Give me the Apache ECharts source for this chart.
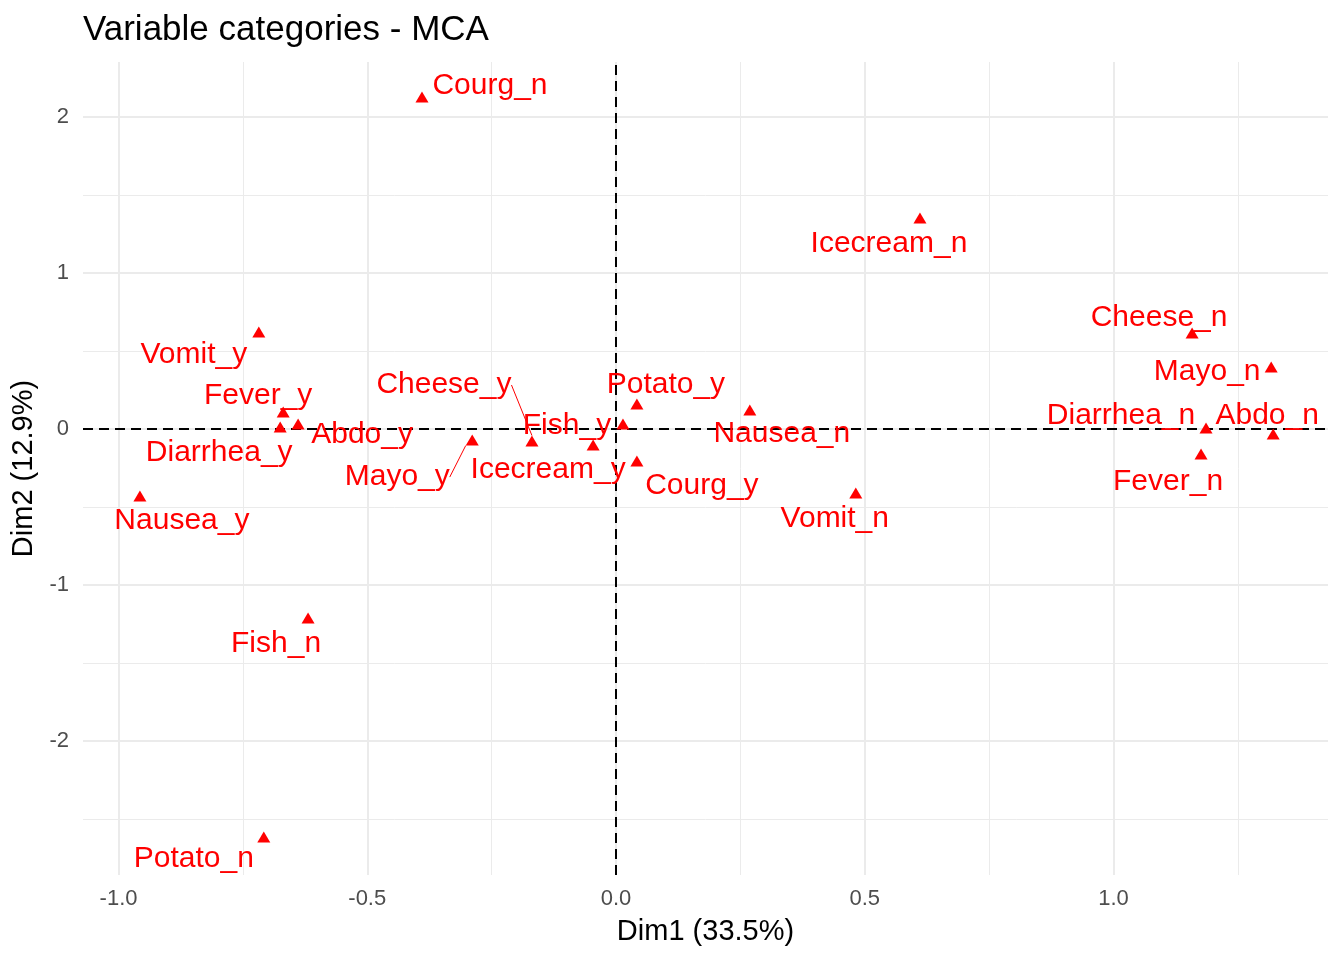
<!DOCTYPE html>
<html>
<head>
<meta charset="utf-8" />
<title>Variable categories - MCA</title>
<script src="https://cdn.jsdelivr.net/npm/echarts@6/dist/echarts.min.js"></script>
<style>
  html, body { margin: 0; padding: 0; background: #fff; }
  #main { width: 1344px; height: 960px; }
</style>
</head>
<body>
<div id="main"></div>
<script>
// variable categories and their coordinates on the first two dimensions
var categories = ['Nausea_y', 'Vomit_y', 'Abdo_y', 'Fever_y', 'Diarrhea_y',
  'Nausea_n', 'Vomit_n', 'Abdo_n', 'Fever_n', 'Diarrhea_n',
  'Fish_y', 'Fish_n', 'Mayo_y', 'Mayo_n', 'Courg_y', 'Courg_n',
  'Cheese_y', 'Cheese_n', 'Icecream_y', 'Icecream_n', 'Potato_y', 'Potato_n'];
var dim1 = [-0.957, -0.718, -0.639, -0.669, -0.675,
  0.269, 0.482, 1.321, 1.176, 1.186,
  0.014, -0.619, -0.289, 1.317, 0.042, -0.390,
  -0.169, 1.158, -0.046, 0.611, 0.042, -0.708];
var dim2 = [-0.429, 0.622, 0.032, 0.109, 0.013,
  0.122, -0.410, -0.032, -0.160, 0.006,
  0.032, -1.212, -0.071, 0.397, -0.205, 2.128,
  -0.077, 0.615, -0.103, 1.353, 0.160, -2.615];

// axes
var xLimits = [-1.0714, 1.4312];
var yLimits = [-2.859, 2.3526];
var xTicks = [-1, -0.5, 0, 0.5, 1];
var xMinor = [-0.75, -0.25, 0.25, 0.75, 1.25];
var yTicks = [-2, -1, 0, 1, 2];
var yMinor = [-2.5, -1.5, -0.5, 0.5, 1.5];

// where the repelled labels ended up, in px from the point
var labelShift = {
  Courg_n: [68, -14], Icecream_n: [-31, 23], Cheese_n: [-33, -18], Mayo_n: [-64, 2],
  Abdo_n: [-6, -21], Diarrhea_n: [-85, -15], Fever_n: [-33, 25], Vomit_n: [-21, 23],
  Nausea_n: [32, 21], Potato_y: [29, -22], Fish_y: [-56, -1], Courg_y: [65, 22],
  Icecream_y: [-45, 22], Cheese_y: [-88, -59], Mayo_y: [-75, 34], Vomit_y: [-65, 20],
  Fever_y: [-25, -19], Diarrhea_y: [-61, 23], Abdo_y: [64, 8], Nausea_y: [42, 22],
  Fish_n: [-32, 23], Potato_n: [-70, 19]
};
var withSegment = ['Cheese_y', 'Mayo_y'];

var FONT = 'Liberation Sans, Arial, Helvetica, sans-serif';

function gridLines(values, axis, width) {
  return values.map(function (v) {
    var item = { lineStyle: { width: width } };
    item[axis] = v;
    return item;
  });
}

var points = categories.map(function (c, i) {
  return {
    name: c,
    value: [dim1[i], dim2[i]],
    labelLine: { show: withSegment.indexOf(c) >= 0 }
  };
});

var myChart = echarts.init(document.getElementById('main'));
myChart.setOption({
  animation: false,
  backgroundColor: '#fff',
  title: {
    text: 'Variable categories - MCA',
    left: 83,
    top: 13,
    padding: 0,
    textStyle: { fontFamily: FONT, fontSize: 35, fontWeight: 'normal', color: '#000' }
  },
  grid: { left: 83, right: 16, top: 62, bottom: 85 },
  xAxis: {
    type: 'value',
    min: xLimits[0],
    max: xLimits[1],
    name: 'Dim1 (33.5%)',
    nameLocation: 'middle',
    nameGap: 42,
    nameTextStyle: { fontFamily: FONT, fontSize: 29, color: '#000' },
    axisLine: { show: false },
    axisTick: { show: true, customValues: xTicks, length: 6, lineStyle: { color: '#222', width: 2 } },
    axisLabel: {
      customValues: xTicks, margin: 13, fontFamily: FONT, fontSize: 22, color: '#4d4d4d',
      formatter: function (v) { return v.toFixed(1); }
    },
    splitLine: { show: false }
  },
  yAxis: {
    type: 'value',
    min: yLimits[0],
    max: yLimits[1],
    name: 'Dim2 (12.9%)',
    nameLocation: 'middle',
    nameGap: 42,
    nameTextStyle: { fontFamily: FONT, fontSize: 29, color: '#000' },
    axisLine: { show: false },
    axisTick: { show: true, customValues: yTicks, length: 6, lineStyle: { color: '#222', width: 2 } },
    axisLabel: {
      customValues: yTicks, margin: 14, fontFamily: FONT, fontSize: 22, color: '#4d4d4d',
      formatter: function (v) { return String(Math.round(v)); }
    },
    splitLine: { show: false }
  },
  series: [
    {
      // background grid, major and minor lines
      type: 'scatter',
      data: [],
      silent: true,
      markLine: {
        silent: true,
        z: 1,
        symbol: 'none',
        label: { show: false },
        lineStyle: { color: '#ebebeb', type: 'solid' },
        data: [].concat(
          gridLines(xTicks, 'xAxis', 2),
          gridLines(xMinor, 'xAxis', 1),
          gridLines(yTicks, 'yAxis', 2),
          gridLines(yMinor, 'yAxis', 1)
        )
      }
    },
    {
      type: 'scatter',
      z: 3,
      symbol: 'triangle',
      symbolSize: [13, 11],
      itemStyle: { color: '#ff0000', opacity: 1 },
      data: points,
      label: {
        show: true,
        position: 'inside',
        formatter: '{b}',
        color: '#ff0000',
        fontFamily: FONT,
        fontSize: 30
      },
      labelLine: { lineStyle: { color: '#ff0000', width: 1 } },
      labelLayout: function (p) {
        var s = labelShift[categories[p.dataIndex]];
        return { dx: s[0], dy: s[1] + 3 };
      },
      markLine: {
        silent: true,
        z: 2,
        symbol: 'none',
        label: { show: false },
        lineStyle: { color: '#000', type: [10, 6], width: 2 },
        data: [{ xAxis: 0 }, { yAxis: 0 }]
      }
    }
  ]
});

window.onresize = function () {
  myChart.resize();
};
</script>
</body>
</html>
